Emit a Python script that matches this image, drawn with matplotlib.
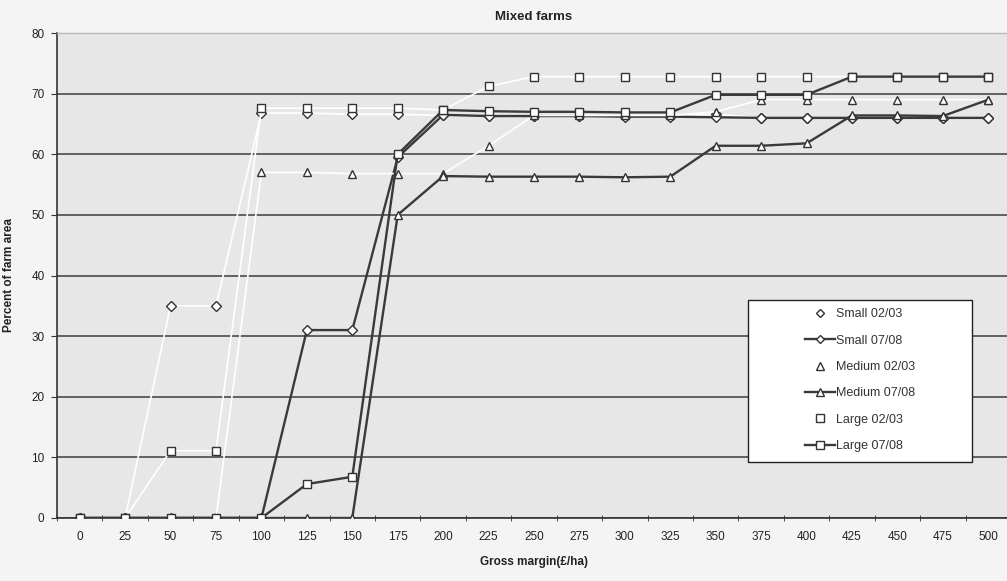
import matplotlib.pyplot as plt
from matplotlib.patches import Rectangle

# Gross margin bands (£/ha) and cumulative share of farm area (%)
margins = [0, 25, 50, 75, 100, 125, 150, 175, 200, 225, 250,
           275, 300, 325, 350, 375, 400, 425, 450, 475, 500]

small_0203 = [0, 0, 35, 35, 66.8, 66.8, 66.6, 66.6, 66.4, 66.3, 66.3,
              66.3, 66.3, 66.3, 66.6, 66.0, 66.0, 66.0, 66.0, 66.0, 66.0]
small_0708 = [0, 0, 0, 0, 0, 31.0, 31.0, 59.5, 66.5, 66.3, 66.3,
              66.3, 66.2, 66.2, 66.1, 66.0, 66.0, 66.0, 66.0, 66.0, 66.0]
medium_0203 = [0, 0, 0, 0, 57.0, 57.0, 56.8, 56.8, 56.8, 61.4, 66.4,
               66.4, 66.4, 66.4, 67.0, 69.0, 69.0, 69.0, 69.0, 69.0, 69.0]
medium_0708 = [0, 0, 0, 0, 0, 0, 0, 50.0, 56.4, 56.3, 56.3,
               56.3, 56.2, 56.3, 61.4, 61.4, 61.8, 66.4, 66.4, 66.3, 69.0]
large_0203 = [0, 0, 11.1, 11.1, 67.6, 67.6, 67.6, 67.6, 67.3, 71.2, 72.8,
              72.8, 72.8, 72.8, 72.8, 72.8, 72.8, 72.8, 72.8, 72.8, 72.8]
large_0708 = [0, 0, 0, 0, 0, 5.6, 6.8, 60.0, 67.3, 67.1, 67.0,
              67.0, 66.9, 66.9, 69.8, 69.8, 69.8, 72.8, 72.8, 72.8, 72.8]

series = [
    ("Small 02/03", small_0203, "D", False),
    ("Small 07/08", small_0708, "D", True),
    ("Medium 02/03", medium_0203, "^", False),
    ("Medium 07/08", medium_0708, "^", True),
    ("Large 02/03", large_0203, "s", False),
    ("Large 07/08", large_0708, "s", True),
]

FIG_BG = "#f4f4f4"
PLOT_BG = "#e7e7e7"
GRID_COLOR = "#4a4a4a"
DARK_LINE = "#3a3a3a"
MARKER_EDGE = "#333333"
FONT = ["Liberation Sans", "DejaVu Sans"]

plt.rcParams["font.family"] = FONT

fig = plt.figure(figsize=(10.07, 5.81), dpi=100, facecolor=FIG_BG)
ax = fig.add_axes([57 / 1007, 63 / 581, 954 / 1007, 485 / 581])
ax.set_facecolor(PLOT_BG)

x = list(range(len(margins)))

for label, values, marker, is_dark in series:
    msize = {"D": 4.6, "^": 6.0, "s": 6.0}[marker]
    ax.plot(x, values,
            color=DARK_LINE if is_dark else "white",
            linewidth=1.7 if is_dark else 1.2,
            marker=marker, markersize=msize,
            markerfacecolor="white", markeredgecolor=MARKER_EDGE,
            markeredgewidth=1.0, label=label, zorder=3)

ax.set_xlim(-0.5, 20.5)
ax.set_ylim(0, 80)
ax.set_yticks(range(0, 81, 10))
ax.set_xticks(x)
ax.set_xticklabels([str(m) for m in margins])
ax.set_xticks([i + 0.5 for i in range(-1, 21)], minor=True)

ax.grid(axis="y", color=GRID_COLOR, linewidth=1.2, zorder=1)
ax.set_axisbelow(True)

ax.tick_params(axis="x", which="major", length=0, pad=9,
               labelsize=8.5, labelcolor="#222222")
ax.tick_params(axis="x", which="minor", length=5, direction="inout",
               color="#333333")
ax.tick_params(axis="y", length=4, color="#333333", labelsize=8.5,
               labelcolor="#222222", pad=5)

for side in ("top", "right"):
    ax.spines[side].set_color("#b8b8b8")
    ax.spines[side].set_linewidth(1.0)
for side in ("left", "bottom"):
    ax.spines[side].set_color("#333333")
    ax.spines[side].set_linewidth(1.2)

ax.set_title("Mixed farms", fontsize=9.5, fontweight="bold", pad=9,
             color="#222222")
ax.set_xlabel("Gross margin(£/ha)", fontsize=8.5, fontweight="bold",
              labelpad=10, color="#222222")
ax.set_ylabel("Percent of farm area", fontsize=8.5, fontweight="bold",
              labelpad=12, color="#222222")

# Legend box drawn separately so the entries sit centred inside it
box = Rectangle((0.724, 0.115), 0.235, 0.334, transform=ax.transAxes,
                facecolor="white", edgecolor="#222222", linewidth=1.0,
                zorder=5)
ax.add_patch(box)
leg = ax.legend(loc="center", bbox_to_anchor=(0.8415, 0.284),
                frameon=False, fontsize=9, labelspacing=1.15,
                handlelength=2.4, handletextpad=0.1, borderpad=0.2,
                markerscale=0.85)
leg.set_zorder(6)
for text in leg.get_texts():
    text.set_color("#333333")

fig.savefig("out.png", dpi=100, facecolor=FIG_BG)
